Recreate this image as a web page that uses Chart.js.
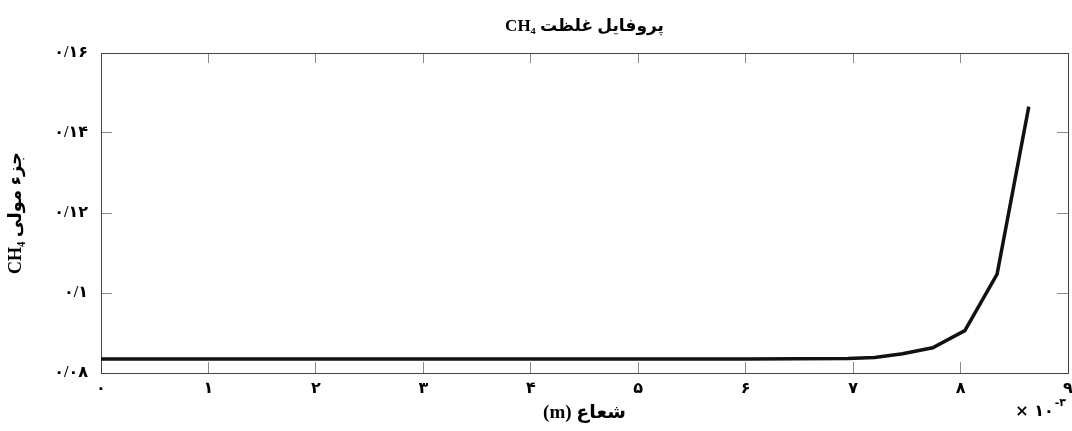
<!DOCTYPE html>
<html>
<head>
<meta charset="utf-8">
<script src="https://cdn.jsdelivr.net/npm/chart.js@4/dist/chart.umd.min.js"></script>
<style>
    body { margin: 0; background: #fff; }
    #wrap { width: 1072px; height: 431px; }
</style>
</head>
<body>
<div id="wrap"><canvas id="myChart" dir="rtl"></canvas></div>
<script>
// radius, in units of 1e-3 m
const radius = [0, 1, 2, 3, 4, 5, 6, 6.95, 7.2, 7.46, 7.74, 8.04, 8.34, 8.635];
// CH4 mole fraction
const moleFraction = [0.0835, 0.0835, 0.0835, 0.0835, 0.0835, 0.0835, 0.0835, 0.0836, 0.0839, 0.0848, 0.0863, 0.0906, 0.1047, 0.1466];

const xTickLabels = ['۰', '۱', '۲', '۳', '۴', '۵', '۶', '۷', '۸', '۹'];
const yTickLabels = ['۰/۰۸', '۰/۱', '۰/۱۲', '۰/۱۴', '۰/۱۶'];

const FONT = "'Liberation Serif', 'DejaVu Sans', serif";
const TICK_COLOR = '#8a8a8a';
const BORDER_COLOR = '#444';

// the "x 10^-3" note under the right end of the x axis
const exponentNote = {
    id: 'exponentNote',
    afterDraw(chart) {
        const ctx = chart.ctx;
        const x = chart.scales.x;
        ctx.save();
        ctx.direction = 'ltr';
        ctx.fillStyle = '#000';
        ctx.textBaseline = 'middle';
        ctx.textAlign = 'right';
        ctx.font = "bold 11px 'DejaVu Sans'";
        ctx.fillText('-۳', x.right - 2, x.bottom - 28);
        const w = ctx.measureText('-۳').width;
        ctx.font = "bold 16px 'DejaVu Sans'";
        ctx.fillText('× ۱۰', x.right - 3 - w, x.bottom - 19);
        ctx.restore();
    }
};

const data = {
    datasets: [{
        label: 'CH4',
        data: radius.map((r, i) => ({ x: r, y: moleFraction[i] })),
        borderColor: '#111',
        borderWidth: 3.5,
        pointRadius: 0,
        tension: 0,
        fill: false
    }]
};

function boxAxis(extra) {
    return Object.assign({
        grid: { drawOnChartArea: false, color: TICK_COLOR, tickLength: -11 },
        border: { color: BORDER_COLOR, width: 1 }
    }, extra);
}

const config = {
    type: 'line',
    data: data,
    options: {
        responsive: true,
        maintainAspectRatio: false,
        animation: false,
        layout: { padding: 0 },
        plugins: {
            legend: { display: false },
            tooltip: { enabled: false },
            title: {
                display: true,
                fullSize: false,
                text: 'پروفایل غلظت CH₄',
                color: '#000',
                font: { family: FONT, size: 17, weight: 'bold', lineHeight: 1.2 },
                padding: { top: 16, bottom: 7.6 }
            }
        },
        scales: {
            x: boxAxis({
                type: 'linear',
                position: 'bottom',
                min: 0,
                max: 9,
                ticks: {
                    stepSize: 1,
                    padding: 17,
                    maxRotation: 0,
                    color: '#000',
                    font: { family: FONT, size: 16, weight: 'bold' },
                    callback: (v) => xTickLabels[Math.round(v)]
                },
                title: {
                    display: true,
                    text: 'شعاع (m)',
                    color: '#000',
                    font: { family: FONT, size: 19, weight: 'bold', lineHeight: 1.2 },
                    padding: { top: 0, bottom: 7 }
                },
                afterFit: (s) => { s.height = 58; s.paddingLeft = 0; s.paddingRight = 0; }
            }),
            xTop: boxAxis({
                type: 'linear',
                position: 'top',
                min: 0,
                max: 9,
                ticks: { stepSize: 1, display: false },
                grid: { drawOnChartArea: false, color: TICK_COLOR, tickLength: -10 },
                afterFit: (s) => { s.height = 9; s.paddingLeft = 0; s.paddingRight = 0; }
            }),
            y: boxAxis({
                type: 'linear',
                position: 'left',
                min: 0.08,
                max: 0.16,
                ticks: {
                    stepSize: 0.02,
                    padding: 24,
                    color: '#000',
                    font: { family: FONT, size: 16, weight: 'bold' },
                    callback: (v, i) => yTickLabels[i]
                },
                title: {
                    display: true,
                    text: 'جزء مولی CH₄',
                    color: '#000',
                    font: { family: FONT, size: 18, weight: 'bold', lineHeight: 1.2 },
                    padding: { top: 6, bottom: 0 }
                },
                afterFit: (s) => { s.width = 101; s.paddingTop = 0; s.paddingBottom = 0; }
            }),
            yRight: boxAxis({
                type: 'linear',
                position: 'right',
                min: 0.08,
                max: 0.16,
                ticks: { stepSize: 0.02, display: false },
                afterFit: (s) => { s.width = 4; s.paddingTop = 0; s.paddingBottom = 0; }
            })
        }
    },
    plugins: [exponentNote]
};

const myChart = new Chart(document.getElementById('myChart'), config);
</script>
</body>
</html>
